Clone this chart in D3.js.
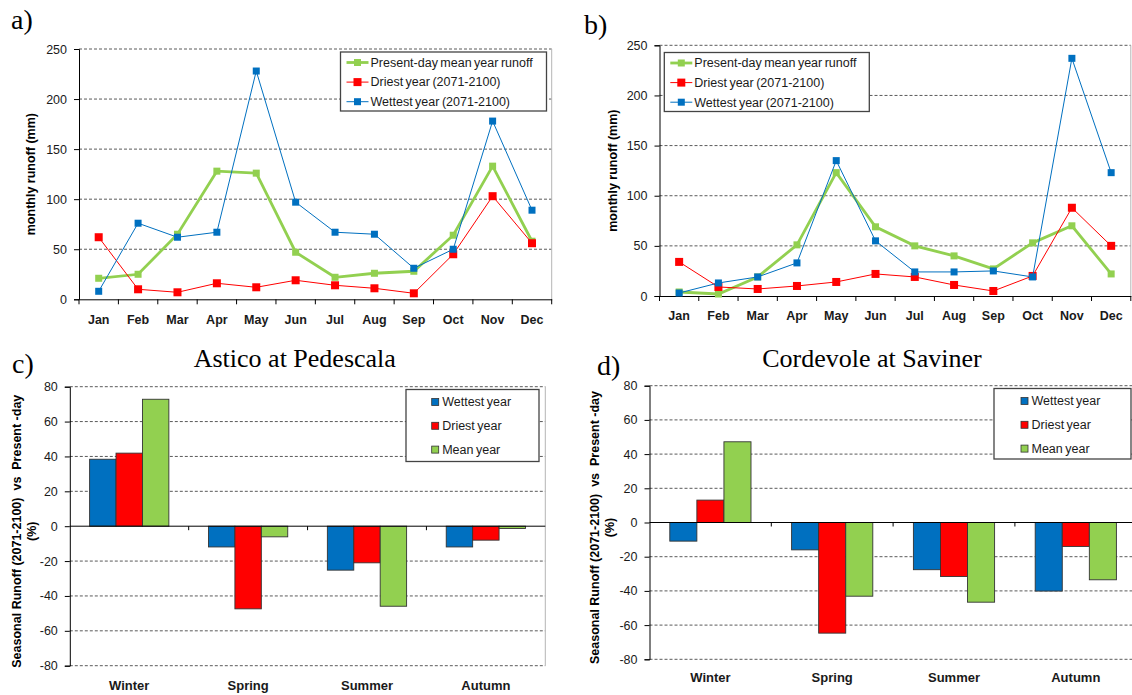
<!DOCTYPE html>
<html>
<head>
<meta charset="utf-8">
<script src="https://cdn.jsdelivr.net/npm/d3@7"></script>
<style>
    body { margin: 0; background: #fff; }
    svg { display: block; font-family: "Liberation Sans", Arial, sans-serif; }
</style>
</head>
<body>
<svg id="fig" width="1132" height="695"></svg>
<script>
"use strict";

// monthly runoff (mm)
const months = ["Jan", "Feb", "Mar", "Apr", "May", "Jun", "Jul", "Aug", "Sep", "Oct", "Nov", "Dec"];
const runoffTicks = [0, 50, 100, 150, 200, 250];

const asticoMean = [21, 25, 65, 128, 126, 47, 22, 26, 28, 64, 133, 58];
const asticoDriest = [62, 10, 7, 16, 12, 19, 14, 11, 6, 45, 103, 56];
const asticoWettest = [8, 76, 62, 67, 228, 97, 67, 65, 31, 50, 178, 89];

const cordevoleMean = [4, 2, 19, 51, 123, 69, 50, 40, 27, 53, 70, 22];
const cordevoleDriest = [34, 9, 7, 10, 14, 22, 19, 11, 5, 20, 88, 50];
const cordevoleWettest = [3, 13, 19, 33, 135, 55, 24, 24, 25, 19, 237, 123];

// seasonal change (%)
const seasons = ["Winter", "Spring", "Summer", "Autumn"];
const changeTicks = [-80, -60, -40, -20, 0, 20, 40, 60, 80];

const asticoChangeWettest = [38.4, -11.9, -25.2, -11.9];
const asticoChangeDriest = [41.9, -47.4, -21.0, -8.0];
const asticoChangeMean = [72.8, -6.1, -45.9, -1.3];

const cordevoleChangeWettest = [-10.9, -16.0, -27.6, -40.1];
const cordevoleChangeDriest = [13.1, -64.7, -31.6, -14.0];
const cordevoleChangeMean = [47.2, -43.1, -46.6, -33.5];

const GREEN = "#92D050", RED = "#FF0000", BLUE = "#0070C0";
const SERIF = '"Liberation Serif", "Times New Roman", serif';

const svg = d3.select("#fig");

function styleAxis(axisG, fontSize, bold) {
    axisG.select(".domain").attr("stroke", "#000");
    axisG.selectAll(".tick line").attr("stroke", "#000");
    axisG.selectAll(".tick text")
        .attr("fill", "#1a1a1a")
        .style("font-size", fontSize + "px")
        .style("font-weight", bold ? "bold" : "normal")
        .style("font-family", '"Liberation Sans", Arial, sans-serif');
}

function drawGrid(g, y, ticks, left, right) {
    g.selectAll("line.grid").data(ticks).join("line")
        .attr("class", "grid")
        .attr("x1", left).attr("x2", right)
        .attr("y1", d => y(d)).attr("y2", d => y(d))
        .attr("stroke", "#5a5a5a")
        .attr("stroke-width", 1)
        .attr("stroke-dasharray", "3,2");
}

function yTitle(g, lines, x, yc, size) {
    lines.forEach((txt, i) => {
        g.append("text")
            .attr("transform", `translate(${x + i * size * 1.2},${yc}) rotate(-90)`)
            .attr("text-anchor", "middle")
            .attr("dominant-baseline", "central")
            .style("font-size", size + "px")
            .style("font-weight", "bold")
            .style("white-space", "pre")
            .text(txt);
    });
}

function panelLabel(txt, x, y) {
    svg.append("text")
        .attr("x", x).attr("y", y)
        .style("font-family", SERIF)
        .style("font-size", "28px")
        .text(txt);
}

function drawLinePanel(o) {
    const g = svg.append("g");
    const x = d3.scaleBand().domain(months).range([o.left, o.right]);
    const y = d3.scaleLinear().domain([0, 250]).range([o.bottom, o.top]);

    drawGrid(g, y, runoffTicks.filter(t => t > 0), o.left, o.right);

    g.append("line")
        .attr("x1", o.right).attr("x2", o.right)
        .attr("y1", o.top).attr("y2", o.bottom)
        .attr("stroke", "#b5b5b5");

    const ya = g.append("g")
        .attr("transform", `translate(${o.left},0)`)
        .call(d3.axisLeft(y).tickValues(runoffTicks).tickSize(5).tickPadding(7));
    styleAxis(ya, 12.5, false);

    const xa = g.append("g")
        .attr("transform", `translate(0,${o.bottom})`)
        .call(d3.axisBottom(x).tickSize(0));
    styleAxis(xa, 12.5, true);
    xa.selectAll(".tick text").attr("y", 20).attr("dy", "0.35em");

    // ticks on the category boundaries
    g.selectAll("line.xtick").data(months.map(m => x(m)).concat([o.right])).join("line")
        .attr("class", "xtick")
        .attr("x1", d => d).attr("x2", d => d)
        .attr("y1", o.bottom).attr("y2", o.bottom + 5)
        .attr("stroke", "#000");

    const line = d3.line()
        .x((d, i) => x(months[i]) + x.bandwidth() / 2)
        .y(d => y(d));

    o.series.forEach(s => {
        g.append("path")
            .datum(s.values)
            .attr("d", line)
            .attr("fill", "none")
            .attr("stroke", s.color)
            .attr("stroke-width", s.width);
        g.selectAll(null).data(s.values).join("rect")
            .attr("x", (d, i) => x(months[i]) + x.bandwidth() / 2 - s.size / 2)
            .attr("y", d => y(d) - s.size / 2)
            .attr("width", s.size).attr("height", s.size)
            .attr("fill", s.color);
    });

    // legend
    const lg = g.append("g").attr("transform", `translate(${o.legend[0]},${o.legend[1]})`);
    lg.append("rect")
        .attr("width", o.legend[2]).attr("height", 59)
        .attr("fill", "#fff")
        .attr("stroke", "#444").attr("stroke-width", 1.3);
    o.series.forEach((s, i) => {
        const row = lg.append("g").attr("transform", `translate(6,${10.5 + i * 19.6})`);
        row.append("line")
            .attr("x1", 0).attr("x2", 22)
            .attr("stroke", s.color).attr("stroke-width", s.width);
        row.append("rect")
            .attr("x", 11 - s.size / 2).attr("y", -s.size / 2)
            .attr("width", s.size).attr("height", s.size)
            .attr("fill", s.color);
        row.append("text")
            .attr("x", 24).attr("dy", "0.35em")
            .style("font-size", "12.5px")
            .style("word-spacing", "-1px")
            .attr("fill", "#1a1a1a")
            .text(s.name);
    });

    yTitle(g, ["monthly runoff (mm)"], o.titleX, (o.top + o.bottom) / 2, 12.5);
}

function drawBarPanel(o) {
    const g = svg.append("g");
    const keys = ["wet", "dry", "mean"];
    const x0 = d3.scaleBand().domain(seasons).range([o.left, o.right])
        .paddingInner(1 / 3).paddingOuter(1 / 6);
    const x1 = d3.scaleBand().domain(keys).range([0, x0.bandwidth()]);
    const y = d3.scaleLinear().domain([-80, 80]).range([o.bottom, o.top]);

    drawGrid(g, y, changeTicks.filter(t => t !== 0), o.left, o.right);

    g.append("line")
        .attr("x1", o.right).attr("x2", o.right)
        .attr("y1", o.top).attr("y2", o.bottom)
        .attr("stroke", "#b5b5b5");

    const rows = seasons.map((s, i) => ({
        season: s,
        wet: o.wet[i], dry: o.dry[i], mean: o.mean[i]
    }));
    const colors = { wet: BLUE, dry: RED, mean: GREEN };

    g.selectAll("g.season").data(rows).join("g")
        .attr("class", "season")
        .attr("transform", d => `translate(${x0(d.season)},0)`)
        .selectAll("rect")
        .data(d => keys.map(k => ({ key: k, value: d[k] })))
        .join("rect")
        .attr("x", d => x1(d.key))
        .attr("y", d => y(Math.max(0, d.value)))
        .attr("width", x1.bandwidth())
        .attr("height", d => Math.abs(y(d.value) - y(0)))
        .attr("fill", d => colors[d.key])
        .attr("stroke", "#333")
        .attr("stroke-width", 0.9);

    const ya = g.append("g")
        .attr("transform", `translate(${o.left},0)`)
        .call(d3.axisLeft(y).tickValues(changeTicks).tickFormat(d => String(d))
            .tickSize(5).tickPadding(7));
    styleAxis(ya, 12.5, false);

    // zero line with boundary ticks
    g.append("line")
        .attr("x1", o.left).attr("x2", o.right)
        .attr("y1", y(0)).attr("y2", y(0))
        .attr("stroke", "#000");
    g.selectAll("line.xtick").data(seasons.slice(1)).join("line")
        .attr("class", "xtick")
        .attr("x1", d => x0(d) - x0.step() * (1 / 6))
        .attr("x2", d => x0(d) - x0.step() * (1 / 6))
        .attr("y1", y(0)).attr("y2", y(0) + 4)
        .attr("stroke", "#000");

    g.selectAll("text.season").data(seasons).join("text")
        .attr("class", "season")
        .attr("x", d => x0(d) + x0.bandwidth() / 2)
        .attr("y", o.bottom + o.labelGap)
        .attr("dy", "0.35em")
        .attr("text-anchor", "middle")
        .style("font-size", "13px")
        .style("font-weight", "bold")
        .attr("fill", "#1a1a1a")
        .text(d => d);

    // legend
    const lg = g.append("g").attr("transform", `translate(${o.legend[0]},${o.legend[1]})`);
    lg.append("rect")
        .attr("width", o.legend[2]).attr("height", o.legend[3])
        .attr("fill", "#fff")
        .attr("stroke", "#444").attr("stroke-width", 1.3);
    const names = ["Wettest year", "Driest year", "Mean year"];
    keys.forEach((k, i) => {
        const row = lg.append("g").attr("transform", `translate(${o.legendPad},${12.5 + i * 23.8})`);
        row.append("rect")
            .attr("x", 0).attr("y", -3.5)
            .attr("width", 7).attr("height", 7)
            .attr("fill", colors[k])
            .attr("stroke", "#333").attr("stroke-width", 0.8);
        row.append("text")
            .attr("x", 10.5).attr("dy", "0.35em")
            .style("font-size", "12.5px")
            .style("word-spacing", "-1px")
            .attr("fill", "#1a1a1a")
            .text(names[i]);
    });

    svg.append("text")
        .attr("x", o.titlePos[0]).attr("y", o.titlePos[1])
        .attr("text-anchor", "middle")
        .style("font-family", SERIF)
        .style("font-size", "26px")
        .text(o.title);

    yTitle(g, ["Seasonal Runoff (2071-2100)  vs  Present -day", "(%)"], o.titleX, (o.top + o.bottom) / 2 + 5, 12.5);
}

const lineSeries = (mean, dry, wet) => [
    { name: "Present-day mean year runoff", values: mean, color: GREEN, width: 2.8, size: 7 },
    { name: "Driest year (2071-2100)", values: dry, color: RED, width: 1, size: 8 },
    { name: "Wettest year (2071-2100)", values: wet, color: BLUE, width: 1, size: 7 }
];

drawLinePanel({
    left: 79, right: 551.7, top: 49, bottom: 299.3,
    series: lineSeries(asticoMean, asticoDriest, asticoWettest),
    legend: [340.5, 52, 206], titleX: 30.9
});

drawLinePanel({
    left: 659.5, right: 1130.8, top: 45.3, bottom: 296,
    series: lineSeries(cordevoleMean, cordevoleDriest, cordevoleWettest),
    legend: [664.3, 52.5, 205], titleX: 613
});

drawBarPanel({
    left: 69.8, right: 545.3, top: 386.7, bottom: 665.7,
    wet: asticoChangeWettest, dry: asticoChangeDriest, mean: asticoChangeMean,
    legend: [406, 389.5, 133, 72], legendPad: 25.7,
    title: "Astico at Pedescala", titlePos: [294.8, 366.7],
    titleX: 17.4, labelGap: 20
});

drawBarPanel({
    left: 649.5, right: 1136.7, top: 385.7, bottom: 659.3,
    wet: cordevoleChangeWettest, dry: cordevoleChangeDriest, mean: cordevoleChangeMean,
    legend: [994, 388.5, 137, 70.5], legendPad: 27,
    title: "Cordevole at Saviner", titlePos: [872, 366.7],
    titleX: 595.1, labelGap: 18
});

panelLabel("a)", 11, 29);
panelLabel("b)", 584, 34);
panelLabel("c)", 12, 373);
panelLabel("d)", 597, 375);
</script>
</body>
</html>
